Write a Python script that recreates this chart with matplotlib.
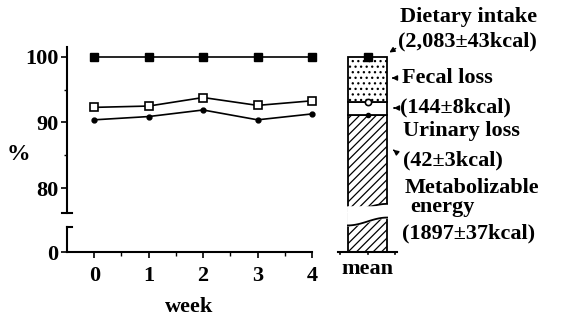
import numpy as np
import matplotlib
matplotlib.use("Agg")
import matplotlib.pyplot as plt
from matplotlib.patches import FancyArrowPatch

plt.rcParams['font.family'] = ['Liberation Serif', 'DejaVu Serif']
plt.rcParams['font.weight'] = 'bold'
plt.rcParams['axes.labelweight'] = 'bold'
plt.rcParams['hatch.linewidth'] = 0.9

# weekly values (% of dietary intake)
weeks = [0, 1, 2, 3, 4]
intake_pct = [100, 100, 100, 100, 100]
after_fecal = [92.3, 92.5, 93.8, 92.6, 93.3]
metabolizable = [90.4, 90.9, 91.9, 90.4, 91.3]

# mean energy balance (kcal)
intake_kcal = 2083
fecal_kcal = 144
urinary_kcal = 42
metab_kcal = 1897

fecal_top = (intake_kcal - fecal_kcal) / intake_kcal * 100
urinary_top = (intake_kcal - fecal_kcal - urinary_kcal) / intake_kcal * 100

W, H = 561, 321
fig = plt.figure(figsize=(W / 100, H / 100), dpi=100)


def box(l, t, r, b):
    return [l / W, 1 - b / H, (r - l) / W, (b - t) / H]


ax_top = fig.add_axes(box(67, 47, 312, 213))
ax_bot = fig.add_axes(box(67, 227, 312, 252))

for ax in (ax_top, ax_bot):
    ax.plot(weeks, intake_pct, color='black', lw=1.2, marker='s', ms=6,
            mfc='black', mec='black', clip_on=False, zorder=3)
    ax.plot(weeks, after_fecal, color='black', lw=1.2, marker='s', ms=6,
            mfc='white', mec='black', mew=1.2, clip_on=False, zorder=3)
    ax.plot(weeks, metabolizable, color='black', lw=1.2, marker='o', ms=3.5,
            mfc='black', mec='black', clip_on=False, zorder=3)
    ax.set_xlim(-0.5, 4)
    for s in ('top', 'right'):
        ax.spines[s].set_visible(False)
    ax.spines['left'].set_linewidth(1.5)
    ax.spines['bottom'].set_linewidth(1.5)
    ax.tick_params(labelsize=16, width=1.2, length=4, direction='out', pad=2)

ax_top.set_ylim(76.2, 101.5)
ax_top.set_yticks([80, 90, 100])
ax_top.set_yticks([85, 95], minor=True)
ax_top.tick_params(axis='y', which='minor', length=2.5, width=1)
ax_top.spines['bottom'].set_visible(False)
ax_top.set_xticks([])

ax_bot.set_ylim(0, 3.8)
ax_bot.set_yticks([0])
ax_bot.set_xticks(weeks)
ax_bot.set_xticks([0.5, 1.5, 2.5, 3.5], minor=True)
ax_bot.tick_params(axis='x', which='major', pad=6)
ax_bot.tick_params(axis='x', which='minor', length=3, width=1)
ax_bot.set_xlabel('week', fontsize=16, labelpad=8)

# break marks on the y axis
ax_top.plot([-0.02, 0.02], [0, 0], transform=ax_top.transAxes, color='black',
            lw=1.5, clip_on=False)
ax_bot.plot([0, 0.02], [1, 1], transform=ax_bot.transAxes, color='black',
            lw=1.5, clip_on=False)

fig.text(18 / W, 1 - 155 / H, '%', fontsize=17, ha='center', va='center')

# mean bar, split into two pieces
bar_top = fig.add_axes(box(338, 47, 397, 213))
bar_bot = fig.add_axes(box(338, 213, 397, 252))
bar_top.set_ylim(76.2, 101.5)
bar_bot.set_ylim(0, 39 * (25.3 / 166))
for ax in (bar_top, bar_bot):
    ax.set_xlim(-0.75, 0.75)
    ax.patch.set_visible(False)
    for s in ax.spines.values():
        s.set_visible(False)
    ax.set_yticks([])
    ax.set_xticks([])

ylo = bar_top.get_ylim()[0]
bar_top.bar(0, urinary_top - ylo, bottom=ylo, width=1.0, color='white',
            edgecolor='black', hatch='////', lw=1.3)
bar_top.bar(0, fecal_top - urinary_top, bottom=urinary_top, width=1.0,
            color='white', edgecolor='black', lw=1.3)
bar_top.bar(0, 100 - fecal_top, bottom=fecal_top, width=1.0, color='white',
            edgecolor='black', hatch='...', lw=1.3)
bar_top.plot([0], [100], marker='s', ms=6, color='black', clip_on=False, zorder=4)
bar_top.plot([0], [fecal_top], marker='o', ms=4.5, mfc='white', mec='black',
             mew=1.2, zorder=4)
bar_top.plot([0], [urinary_top], marker='o', ms=3, color='black', zorder=4)

# wavy cut of the two pieces
xw = np.linspace(-0.515, 0.515, 60)
t = np.clip(xw + 0.5, 0, 1)
wave_top = ylo + 0.84 - 0.55 * np.cos(np.pi * t)
bar_top.fill_between(xw, ylo - 1, wave_top, color='white', zorder=3, clip_on=False)
bar_top.plot(xw[1:-1], wave_top[1:-1], color='black', lw=1.3, zorder=3)

ytop = bar_bot.get_ylim()[1]
bar_bot.bar(0, ytop, width=1.0, color='white', edgecolor='black',
            hatch='////', lw=1.3)
wave_bot = 4.65 - 0.6 * np.cos(np.pi * t)
bar_bot.fill_between(xw, wave_bot, ytop + 1, color='white', zorder=3, clip_on=False)
bar_bot.plot(xw[1:-1], wave_bot[1:-1], color='black', lw=1.3, zorder=3)
bar_bot.axhline(0, color='black', lw=1.5, clip_on=False)
for xt in (-0.7, 0, 0.7):
    bar_bot.plot([xt, xt], [0, -0.35], color='black', lw=1.2, clip_on=False)
bar_bot.text(0, -1.1, 'mean', fontsize=16, ha='center', va='top')

# labels on the right
labels = [
    ('Dietary intake', 400, 17),
    ('(2,083\u00b1%dkcal)' % 43, 398, 41),
    ('Fecal loss', 402, 78),
    ('(%d\u00b18kcal)' % fecal_kcal, 400, 107),
    ('Urinary loss', 403, 131),
    ('(%d\u00b13kcal)' % urinary_kcal, 403, 160),
    ('Metabolizable', 405, 188),
    ('energy', 410, 207),
    ('(%d\u00b137kcal)' % metab_kcal, 402, 233),
]
for txt, x, y in labels:
    fig.text(x / W, 1 - y / H, txt, fontsize=16, ha='left', va='center')

arrows = [((398, 47), (387, 54)), ((396, 78), (389, 78)),
          ((397, 108), (391, 108)), ((396, 152), (391, 148))]
for (x0, y0), (x1, y1) in arrows:
    fig.add_artist(FancyArrowPatch(
        (x0, H - y0), (x1, H - y1), transform=None,
        arrowstyle='-|>,head_length=3,head_width=1.5', color='black', lw=1))

fig.savefig('out.png', dpi=100)
